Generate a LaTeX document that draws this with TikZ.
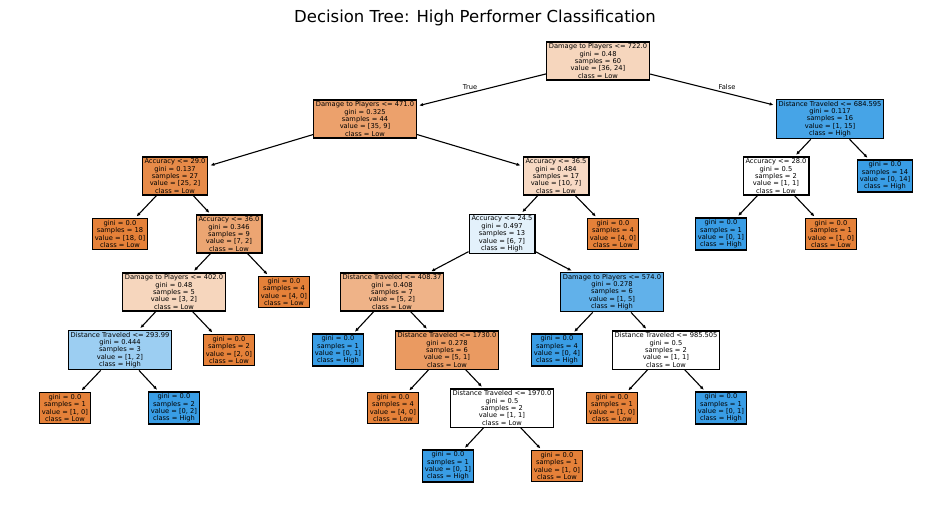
\documentclass[tikz,border=0pt]{standalone}
\usepackage{fontspec}
\setmainfont{DejaVu Sans}
\usetikzlibrary{arrows.meta}
\definecolor{lowfull}{RGB}{229,129,57}
\definecolor{low92}{RGB}{231,139,73}
\definecolor{low80}{RGB}{234,154,97}
\definecolor{low74}{RGB}{236,161,108}
\definecolor{low71}{RGB}{236,165,114}
\definecolor{low60}{RGB}{239,179,136}
\definecolor{low33}{RGB}{246,214,189}
\definecolor{low30}{RGB}{247,217,195}
\definecolor{highfull}{RGB}{57,157,229}
\definecolor{high93}{RGB}{70,164,231}
\definecolor{high80}{RGB}{97,177,234}
\definecolor{high50}{RGB}{156,206,242}
\definecolor{high14}{RGB}{227,241,251}
\begin{document}
\begin{tikzpicture}[x=1pt, y=-1pt, % pixel coordinates, y pointing down
                    box/.style = {draw, line width=1.2pt, align=center, inner xsep=2.4pt, inner ysep=1.7pt,
                                  font=\fontsize{6.7}{7.4}\selectfont},
                    edge/.style = {-{Latex[length=4pt,width=3.4pt]}, line width=1.1pt, shorten >=2pt}
                   ]
  \useasboundingbox (0,0) rectangle (950,504);
  \node (title) at (475,18) {\fontsize{16.5}{20}\selectfont Decision Tree: High Performer Classification};
  % level 0 and 1
  \node[box, fill=low33] (n0) at (598,61) {Damage to Players <= 722.0\\gini = 0.48\\samples = 60\\value = [36, 24]\\class = Low};
  \node[box, fill=low74] (n1) at (365,119) {Damage to Players <= 471.0\\gini = 0.325\\samples = 44\\value = [35, 9]\\class = Low};
  \node[box, fill=high93] (n26) at (830,119) {Distance Traveled <= 684.595\\gini = 0.117\\samples = 16\\value = [1, 15]\\class = High};
  % level 2
  \node[box, fill=low92] (n2) at (175,176) {Accuracy <= 29.0\\gini = 0.137\\samples = 27\\value = [25, 2]\\class = Low};
  \node[box, fill=low30] (n11) at (556,176) {Accuracy <= 36.5\\gini = 0.484\\samples = 17\\value = [10, 7]\\class = Low};
  \node[box, fill=white] (n27) at (776,176) {Accuracy <= 28.0\\gini = 0.5\\samples = 2\\value = [1, 1]\\class = Low};
  \node[box, fill=highfull] (n30) at (885,176) {gini = 0.0\\samples = 14\\value = [0, 14]\\class = High};
  % level 3
  \node[box, fill=lowfull] (n3) at (120,234) {gini = 0.0\\samples = 18\\value = [18, 0]\\class = Low};
  \node[box, fill=low71] (n4) at (229,234) {Accuracy <= 36.0\\gini = 0.346\\samples = 9\\value = [7, 2]\\class = Low};
  \node[box, fill=high14] (n12) at (502,234) {Accuracy <= 24.5\\gini = 0.497\\samples = 13\\value = [6, 7]\\class = High};
  \node[box, fill=lowfull] (n25) at (613,234) {gini = 0.0\\samples = 4\\value = [4, 0]\\class = Low};
  \node[box, fill=highfull] (n28) at (721,234) {gini = 0.0\\samples = 1\\value = [0, 1]\\class = High};
  \node[box, fill=lowfull] (n29) at (831,234) {gini = 0.0\\samples = 1\\value = [1, 0]\\class = Low};
  % level 4
  \node[box, fill=low33] (n5) at (174,292) {Damage to Players <= 402.0\\gini = 0.48\\samples = 5\\value = [3, 2]\\class = Low};
  \node[box, fill=lowfull] (n10) at (284,292) {gini = 0.0\\samples = 4\\value = [4, 0]\\class = Low};
  \node[box, fill=low60] (n13) at (392,292) {Distance Traveled <= 408.37\\gini = 0.408\\samples = 7\\value = [5, 2]\\class = Low};
  \node[box, fill=high80] (n20) at (612,292) {Damage to Players <= 574.0\\gini = 0.278\\samples = 6\\value = [1, 5]\\class = High};
  % level 5
  \node[box, fill=high50] (n6) at (120,350) {Distance Traveled <= 293.99\\gini = 0.444\\samples = 3\\value = [1, 2]\\class = High};
  \node[box, fill=lowfull] (n9) at (229,350) {gini = 0.0\\samples = 2\\value = [2, 0]\\class = Low};
  \node[box, fill=highfull] (n14) at (338,350) {gini = 0.0\\samples = 1\\value = [0, 1]\\class = High};
  \node[box, fill=low80] (n15) at (447,350) {Distance Traveled <= 1730.0\\gini = 0.278\\samples = 6\\value = [5, 1]\\class = Low};
  \node[box, fill=highfull] (n21) at (557,350) {gini = 0.0\\samples = 4\\value = [0, 4]\\class = High};
  \node[box, fill=white] (n22) at (666,350) {Distance Traveled <= 985.505\\gini = 0.5\\samples = 2\\value = [1, 1]\\class = Low};
  % level 6
  \node[box, fill=lowfull] (n7) at (65,408) {gini = 0.0\\samples = 1\\value = [1, 0]\\class = Low};
  \node[box, fill=highfull] (n8) at (174,408) {gini = 0.0\\samples = 2\\value = [0, 2]\\class = High};
  \node[box, fill=lowfull] (n16) at (393,408) {gini = 0.0\\samples = 4\\value = [4, 0]\\class = Low};
  \node[box, fill=white] (n17) at (502,408) {Distance Traveled <= 1970.0\\gini = 0.5\\samples = 2\\value = [1, 1]\\class = Low};
  \node[box, fill=lowfull] (n23) at (612,408) {gini = 0.0\\samples = 1\\value = [1, 0]\\class = Low};
  \node[box, fill=highfull] (n24) at (721,408) {gini = 0.0\\samples = 1\\value = [0, 1]\\class = High};
  % level 7
  \node[box, fill=highfull] (n18) at (448,466) {gini = 0.0\\samples = 1\\value = [0, 1]\\class = High};
  \node[box, fill=lowfull] (n19) at (557,466) {gini = 0.0\\samples = 1\\value = [1, 0]\\class = Low};
  % branches
  \foreach \a/\b in {n0/n1, n0/n26, n1/n2, n1/n11, n2/n3, n2/n4, n4/n5, n4/n10, n5/n6, n5/n9,
                     n6/n7, n6/n8, n11/n12, n11/n25, n12/n13, n12/n20, n13/n14, n13/n15,
                     n15/n16, n15/n17, n17/n18, n17/n19, n20/n21, n20/n22, n22/n23, n22/n24,
                     n26/n27, n26/n30, n27/n28, n27/n29}
    \draw[edge] (\a) -- (\b);
  \node[font=\fontsize{6.7}{7.4}\selectfont] (lblTrue) at (470,87) {True};
  \node[font=\fontsize{6.7}{7.4}\selectfont] (lblFalse) at (727,87) {False};
\end{tikzpicture}
\end{document}
